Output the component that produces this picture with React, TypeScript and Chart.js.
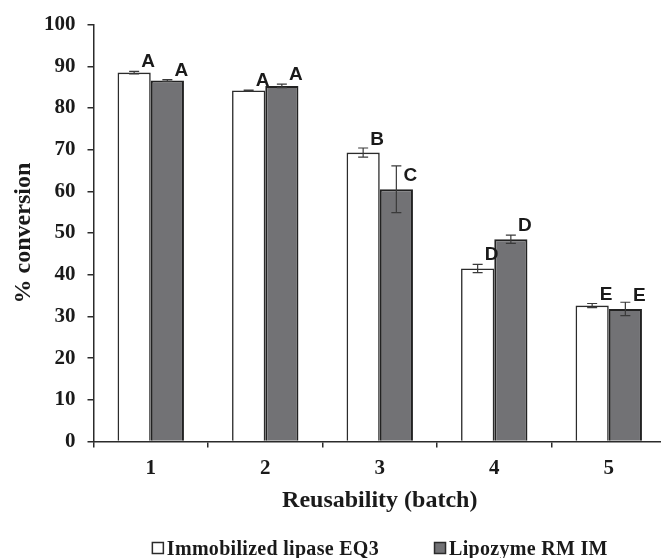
import React, { useEffect, useRef } from 'react';
import { Chart, registerables } from 'chart.js';

Chart.register(...registerables);

const categories = ['1', '2', '3', '4', '5'];
const seriesNames = ['Immobilized lipase EQ3', 'Lipozyme RM IM'];
const eq3Values = [88.5, 84.2, 69.3, 41.5, 32.6];
const eq3Errors = [0.3, 0.1, 1.1, 1.0, 0.5];
const eq3Letters = ['A', 'A', 'B', 'D', 'E'];
const rmValues = [86.6, 85.3, 60.5, 48.5, 31.8];
const rmErrors = [0.2, 0.4, 5.6, 1.0, 1.6];
const rmLetters = ['A', 'A', 'C', 'D', 'E'];
const yMin = 0;
const yMax = 100;
const yStep = 10;
const xTitle = 'Reusability (batch)';
const yTitle = '% conversion';

const SERIF = '"Liberation Serif", "Times New Roman", serif';
const SANS = '"Liberation Sans", Arial, sans-serif';
const INK = '#2b2b2b';

const errorAndLetterPlugin = {
  id: 'errorAndLetters',
  afterDatasetsDraw(chart: any) {
    const ctx = chart.ctx;
    const y = chart.scales.y;
    chart.data.datasets.forEach((ds: any, di: number) => {
      const meta = chart.getDatasetMeta(di);
      meta.data.forEach((bar: any, i: number) => {
        const v = ds.data[i];
        const e = ds.errors[i];
        const yTop = y.getPixelForValue(v + e);
        const yBot = y.getPixelForValue(v - e);
        ctx.save();
        ctx.strokeStyle = '#3a3a3a';
        ctx.lineWidth = 1.2;
        ctx.beginPath();
        ctx.moveTo(bar.x, yTop);
        ctx.lineTo(bar.x, yBot);
        ctx.moveTo(bar.x - 5, yTop);
        ctx.lineTo(bar.x + 5, yTop);
        ctx.moveTo(bar.x - 5, yBot);
        ctx.lineTo(bar.x + 5, yBot);
        ctx.stroke();
        const base = Math.max(bar.y - 8, yTop - 4);
        ctx.font = 'bold 19px ' + SANS;
        ctx.fillStyle = '#1a1a1a';
        ctx.textAlign = 'center';
        ctx.textBaseline = 'alphabetic';
        ctx.fillText(ds.letters[i], bar.x + 14, base);
        ctx.restore();
      });
    });
  },
};

const legendPlugin = {
  id: 'bottomLegend',
  afterDraw(chart: any) {
    const ctx = chart.ctx;
    const ca = chart.chartArea;
    ctx.save();
    ctx.font = 'bold 20px ' + SERIF;
    try {
      (ctx as any).letterSpacing = '0.3px';
    } catch (e) {}
    const box = 12;
    const gap = 3;
    const itemGap = 55;
    const items = chart.data.datasets.map((ds: any) => ({
      label: ds.label,
      fill: ds.backgroundColor,
      w: ctx.measureText(ds.label).width,
    }));
    const total =
      items.reduce((s: number, it: any) => s + box + gap + it.w, 0) +
      itemGap * (items.length - 1);
    let x = (ca.left + ca.right) / 2 - total / 2;
    const baseline = 555;
    items.forEach((it: any) => {
      ctx.fillStyle = it.fill;
      ctx.fillRect(x + 0.5, baseline - 12.5, box - 1, box - 1);
      ctx.strokeStyle = INK;
      ctx.lineWidth = 1.5;
      ctx.strokeRect(x + 0.5, baseline - 12.5, box - 1, box - 1);
      ctx.fillStyle = '#1a1a1a';
      ctx.textAlign = 'left';
      ctx.textBaseline = 'alphabetic';
      ctx.fillText(it.label, x + box + gap, baseline);
      x += box + gap + it.w + itemGap;
    });
    ctx.restore();
  },
};

export default function App() {
  const ref = useRef<HTMLCanvasElement>(null);

  useEffect(() => {
    if (!ref.current) return;
    const chart = new Chart(ref.current, {
      type: 'bar',
      data: {
        labels: categories,
        datasets: [
          {
            label: seriesNames[0],
            data: eq3Values,
            errors: eq3Errors,
            letters: eq3Letters,
            backgroundColor: '#ffffff',
            borderColor: INK,
            borderWidth: 1.6,
            categoryPercentage: 0.58,
            barPercentage: 1.0,
          } as any,
          {
            label: seriesNames[1],
            data: rmValues,
            errors: rmErrors,
            letters: rmLetters,
            backgroundColor: '#727275',
            borderColor: '#222222',
            borderWidth: 2,
            categoryPercentage: 0.58,
            barPercentage: 1.0,
          } as any,
        ],
      },
      options: {
        animation: false,
        responsive: false,
        devicePixelRatio: 1,
        layout: { padding: { left: 0, top: 23, right: 6, bottom: 0 } },
        plugins: {
          legend: { display: false },
          tooltip: { enabled: false },
        },
        scales: {
          x: {
            afterFit(scale: any) {
              scale.height = 558 - 441.5;
            },
            grid: {
              display: true,
              drawOnChartArea: false,
              drawTicks: true,
              tickLength: 6,
              color: INK,
              lineWidth: 1.5,
              offset: true,
            },
            border: { display: true, color: INK, width: 1.5 },
            ticks: {
              color: '#1a1a1a',
              font: { family: SERIF, size: 21, weight: 'bold' },
              padding: 8,
            },
            title: {
              display: true,
              text: xTitle,
              color: '#1a1a1a',
              font: { family: SERIF, size: 24, weight: 'bold' },
              padding: { top: 0, bottom: 43 },
            },
          },
          y: {
            min: yMin,
            max: yMax,
            afterFit(scale: any) {
              scale.width = 93.5;
            },
            grid: {
              display: true,
              drawOnChartArea: false,
              drawTicks: true,
              tickLength: 6,
              color: INK,
              lineWidth: 1.5,
            },
            border: { display: true, color: INK, width: 1.5 },
            ticks: {
              stepSize: yStep,
              color: '#1a1a1a',
              font: { family: SERIF, size: 21, weight: 'bold' },
              padding: 12,
            },
            title: {
              display: true,
              text: yTitle,
              color: '#1a1a1a',
              font: { family: SERIF, size: 24, weight: 'bold' },
              padding: { top: 9, bottom: 0 },
            },
          },
        },
      } as any,
      plugins: [errorAndLetterPlugin, legendPlugin],
    });
    return () => chart.destroy();
  }, []);

  return (
    <div
      style={{
        position: 'fixed',
        left: 0,
        top: 0,
        width: 661,
        height: 558,
        overflow: 'hidden',
        background: '#ffffff',
      }}
    >
      <canvas
        ref={ref}
        width={672}
        height={558}
        style={{ display: 'block', width: 672, height: 558 }}
      />
    </div>
  );
}
